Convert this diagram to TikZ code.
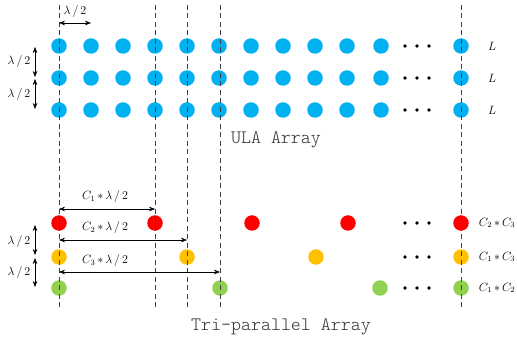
\documentclass[tikz,border=0pt]{standalone}
\usetikzlibrary{arrows.meta}
\definecolor{ublue}{RGB}{0,176,240}
\definecolor{ured}{RGB}{255,0,0}
\definecolor{uyel}{RGB}{255,192,0}
\definecolor{ugrn}{RGB}{146,208,80}
\begin{document}
\begin{tikzpicture}[x=1pt,y=-1pt,
  dot/.style={circle,fill=#1,minimum size=15.5pt,inner sep=0pt},
  sdot/.style={circle,fill=black,minimum size=3.6pt,inner sep=0pt},
  guide/.style={draw=black!75,line width=0.6pt,dash pattern=on 5pt off 3.5pt},
  dim/.style={{Stealth[length=6pt,width=4.5pt]}-{Stealth[length=6pt,width=4.5pt]},line width=0.5pt},
  lab/.style={font=\fontsize{12}{14}\selectfont,inner sep=1pt},
  title/.style={font=\fontfamily{lmtt}\fontseries{l}\fontsize{19}{21}\selectfont,text=black!80}
]
\useasboundingbox (0,0) rectangle (517,347);
% ULA dots
\foreach \y/\r in {46/1,78/2,110/3}{
  \foreach \x/\c in {59/1,91/2,123/3,155/4,187/5,219/6,251/7,283/8,315/9,347/10,381/11,461/12}{
    \node[dot=ublue] (u\r-\c) at (\x,\y) {};
  }
  \foreach \x/\c in {405/a,417/b,429/c}{
    \node[sdot] (ue\r-\c) at (\x,\y) {};
  }
  \node[lab] (uL\r) at (492,\y) {$L$};
}
% Tri-parallel dots
\foreach \x/\c in {59/1,155/2,252/3,348/4,461/5}{\node[dot=ured] (r\c) at (\x,223) {};}
\foreach \x/\c in {59/1,187/2,316/3,461/5}{\node[dot=uyel] (y\c) at (\x,257) {};}
\foreach \x/\c in {59/1,220/2,380/3,461/5}{\node[dot=ugrn] (g\c) at (\x,288) {};}
\foreach \y/\r in {223/1,257/2,288/3}{
  \foreach \x/\c in {405/a,417/b,429/c}{\node[sdot] (te\r-\c) at (\x,\y) {};}
}
\node[lab] (lr) at (497,223) {$C_2\,{*}\,C_3$};
\node[lab] (ly) at (497,257) {$C_1\,{*}\,C_3$};
\node[lab] (lg) at (497,288) {$C_1\,{*}\,C_2$};
% guide lines
\foreach \x/\n in {59/1,155/2,187/3,220/4,461/5}{
  \coordinate (gt\n) at (\x,5);
  \coordinate (gb\n) at (\x,310);
  \draw[guide] (gt\n) -- (gb\n);
}
% top dimension
\coordinate (ha) at (59,23); \coordinate (hb) at (91,23);
\draw[dim] (ha) -- (hb);
\node[lab] (hl) at (75,12) {$\lambda\,/\,2$};
% left vertical dims, ULA
\coordinate (v1) at (35,47); \coordinate (v2) at (35,77);
\coordinate (v3) at (35,79); \coordinate (v4) at (35,109);
\draw[dim] (v1) -- (v2);
\draw[dim] (v3) -- (v4);
\node[lab] (vl1) at (19,62) {$\lambda\,/\,2$};
\node[lab] (vl2) at (19,95) {$\lambda\,/\,2$};
% left vertical dims, tri
\coordinate (w1) at (35,225); \coordinate (w2) at (35,255);
\coordinate (w3) at (35,258); \coordinate (w4) at (35,287);
\draw[dim] (w1) -- (w2);
\draw[dim] (w3) -- (w4);
\node[lab] (wl1) at (19,242) {$\lambda\,/\,2$};
\node[lab] (wl2) at (19,273) {$\lambda\,/\,2$};
% C dims
\coordinate (c1a) at (59,209); \coordinate (c1b) at (155,209);
\coordinate (c2a) at (59,240); \coordinate (c2b) at (187,240);
\coordinate (c3a) at (59,272); \coordinate (c3b) at (220,272);
\draw[dim] (c1a) -- (c1b);
\draw[dim] (c2a) -- (c2b);
\draw[dim] (c3a) -- (c3b);
\node[lab] (cl1) at (105,197) {$C_1\,{*}\,\lambda\,/\,2$};
\node[lab] (cl2) at (105,228) {$C_2\,{*}\,\lambda\,/\,2$};
\node[lab] (cl3) at (105,261) {$C_3\,{*}\,\lambda\,/\,2$};
% titles
\node[title] (t1) at (276,140) {ULA Array};
\node[title] (t2) at (281,327) {Tri-parallel Array};
\end{tikzpicture}
\end{document}
